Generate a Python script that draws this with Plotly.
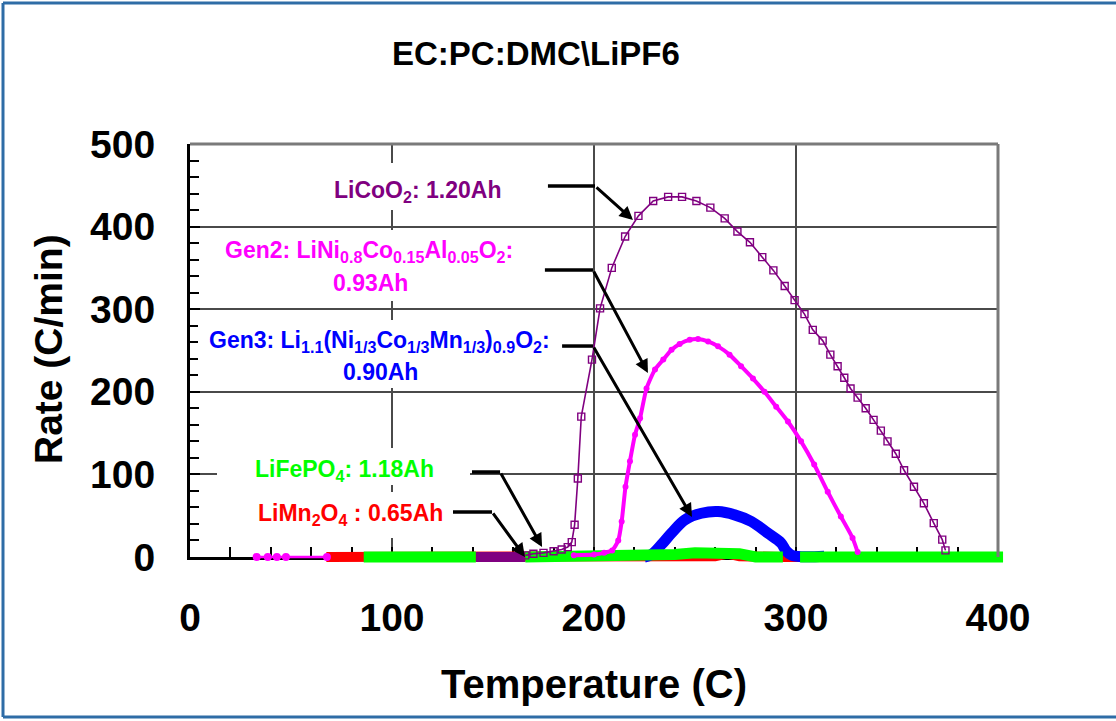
import plotly.graph_objects as go

FONT = "Liberation Sans, Arial, sans-serif"

# ---------------- data ----------------
x_ticks = [0, 100, 200, 300, 400]
y_ticks = [0, 100, 200, 300, 400, 500]

# LiCoO2 1.20Ah (purple, open squares)
licoo2_T = [166, 170, 175, 180, 184, 187, 189, 190.4, 192, 193.7, 199, 203, 208.8, 215.4,
            222, 229.3, 236.7, 243.6, 250.7, 257.6, 264.7, 271, 277.2, 283.3, 288.8, 294.4,
            299.3, 304.2, 308.3, 313.2, 317, 320.6, 323.9, 327, 330.5, 334.5, 338.4, 342,
            345.3, 349.4, 353.5, 358.4, 363.3, 368.2, 372.4, 374]
licoo2_R = [2, 4, 5, 7, 9, 12, 18, 39, 95, 170, 239, 301, 350, 388,
            413, 431, 436, 436, 431, 423, 410, 394, 381, 363, 347, 328,
            311, 294, 275, 262, 245, 231, 217, 204, 193, 180, 166, 153,
            140, 125, 105, 85, 65, 41, 21, 8]
licoo2_base_T = [141.5, 166]
licoo2_base_R = [0, 0]

# Gen2 LiNi0.8Co0.15Al0.05O2 0.93Ah (magenta, dots)
gen2_low_T = [33, 38.5, 43, 47.5, 67.8]
gen2_low_R = [0, 0, 0, 0, 0]
gen2_T = [190, 200, 205, 209, 212, 213.7, 215.6, 217.8, 220.3, 222.8, 226, 230.2, 234.3,
          238.4, 242.4, 247.4, 251.5, 256.5, 261.4, 267.1, 272.8, 278.7, 284.4, 290.2,
          296, 302.5, 309, 315.7, 322.2, 328, 330.5]
gen2_R = [2, 3, 5, 8, 20, 43, 85, 116, 148, 168, 204, 227, 239,
          251, 258, 263, 264, 261, 255, 245, 231, 216, 200, 182,
          164, 140, 112, 79, 49, 23, 6]

# Gen3 Li1.1(Ni1/3Co1/3Mn1/3)0.9O2 0.90Ah (blue)
gen3_T = [225, 228.5, 233.4, 238.4, 245, 253.2, 261.4, 269.6, 277.9, 286, 292.6, 295, 298, 314]
gen3_R = [0, 3, 15, 29, 45, 53, 55, 51, 43, 29, 17, 8, 2, 1]

# LiFePO4 1.18Ah (green)
lifepo4_T = [86, 141.5, None, 166, 232, 240, 250, 262, 272, 280, 293.5, None, 302, 402.5]
lifepo4_R = [0, 0, None, 0, 0, 3, 5, 6, 4, 0, 0, None, 0, 0]

# LiMn2O4 0.65Ah (red)
limn2o4_T = [67.5, 86, 120, 170, 200, 238, 260, 266, 272, 293.5, 302]
limn2o4_R = [0, 0, 0, 1.5, 3, 3, 1, 4, 1, 0, 0]

PURPLE = "#800080"
MAGENTA = "#FF00FF"
BLUE = "#0000FF"
GREEN = "#00FF00"
RED = "#FF0000"

# ---------------- geometry helpers (reference pixel space) ----------------
L, R_, T_, B_ = 190, 1008, 144, 567          # plot area in pixels
PW, PH = R_ - L, B_ - T_
X_END = 998                                  # px of T=400
Y_ZERO = 557                                 # px of R=0


def pp(px, py):
    return (px - L) / PW, (B_ - py) / PH


x_dom_end = (X_END - L) / PW
y_dom_start = (B_ - Y_ZERO) / PH
x2_max = 400 * PW / (X_END - L)
y2_min = -500 * (B_ - Y_ZERO) / (Y_ZERO - T_)

fig = go.Figure()

# empty trace to keep the framed axes alive
fig.add_trace(go.Scatter(x=[None], y=[None], xaxis="x", yaxis="y",
                         showlegend=False, hoverinfo="skip"))

common = dict(xaxis="x2", yaxis="y2", showlegend=False, hoverinfo="skip")
fig.add_trace(go.Scatter(x=limn2o4_T, y=limn2o4_R, mode="lines",
                         line=dict(color=RED, width=10), **common))
fig.add_trace(go.Scatter(x=licoo2_base_T, y=licoo2_base_R, mode="lines",
                         line=dict(color=PURPLE, width=10), **common))
fig.add_trace(go.Scatter(x=gen3_T, y=gen3_R, mode="lines",
                         line=dict(color=BLUE, width=11, shape="spline"), **common))
fig.add_trace(go.Scatter(x=lifepo4_T, y=lifepo4_R, mode="lines",
                         line=dict(color=GREEN, width=11), **common))
fig.add_trace(go.Scatter(x=licoo2_T, y=licoo2_R, mode="lines+markers",
                         line=dict(color=PURPLE, width=1.6),
                         marker=dict(symbol="square-open", size=7, color=PURPLE,
                                     line=dict(width=1.4, color=PURPLE)), **common))
fig.add_trace(go.Scatter(x=gen2_low_T, y=gen2_low_R, mode="lines+markers",
                         line=dict(color=MAGENTA, width=2.5),
                         marker=dict(symbol="circle", size=8, color=MAGENTA),
                         cliponaxis=False, **common))
fig.add_trace(go.Scatter(x=gen2_T, y=gen2_R, mode="lines+markers",
                         line=dict(color=MAGENTA, width=4, shape="spline", smoothing=0.6),
                         marker=dict(symbol="circle", size=6, color=MAGENTA), **common))

tickfont = dict(family=FONT, size=39, color="black", weight="bold")
fig.update_layout(
    width=1116, height=721,
    margin=dict(l=L, r=1116 - R_, t=T_, b=721 - B_),
    paper_bgcolor="white", plot_bgcolor="rgba(0,0,0,0)",
    showlegend=False,
    xaxis=dict(domain=[0, x_dom_end], range=[0, 400], anchor="y",
               tickvals=x_ticks, ticktext=[str(v) for v in x_ticks],
               showgrid=True, gridcolor="#4a4a4a", gridwidth=2,
               zeroline=False, showline=True, linecolor="black", linewidth=3,
               ticks="inside", ticklen=10, tickwidth=2, tickcolor="black",
               minor=dict(dtick=20, ticks="inside", ticklen=10, tickwidth=2,
                          tickcolor="black", showgrid=False),
               tickfont=tickfont, ticklabelstandoff=24),
    yaxis=dict(domain=[y_dom_start, 1], range=[0, 500], anchor="x",
               tickvals=y_ticks, ticktext=[str(v) for v in y_ticks],
               showgrid=True, gridcolor="#4a4a4a", gridwidth=2,
               zeroline=False, showline=True, linecolor="black", linewidth=3,
               ticks="inside", ticklen=10, tickwidth=2, tickcolor="black",
               minor=dict(dtick=20, ticks="inside", ticklen=9, tickwidth=2,
                          tickcolor="black", showgrid=False),
               tickfont=tickfont, ticklabelstandoff=24),
    xaxis2=dict(domain=[0, 1], range=[0, x2_max], anchor="y2", visible=False,
                showgrid=False, zeroline=False),
    yaxis2=dict(domain=[0, 1], range=[y2_min, 500], anchor="x2", visible=False,
                showgrid=False, zeroline=False),
)

shapes = []
# outer blue frame: left, top and bottom edges (right edge lies outside the picture)
FRAME = "#2E6CA6"
for (ax0, ay0, ax1, ay1) in [(3, 3, 3, 717), (3, 3, 1116, 3), (3, 717, 1116, 717)]:
    a0, b0 = pp(ax0, ay0)
    a1, b1 = pp(ax1, ay1)
    shapes.append(dict(type="line", xref="paper", yref="paper", x0=a0, y0=b0, x1=a1, y1=b1,
                       line=dict(color=FRAME, width=3), layer="above"))
# grey top / right border of plot
shapes.append(dict(type="line", xref="paper", yref="paper", x0=0, x1=x_dom_end, y0=1, y1=1,
                   line=dict(color="#7a7a7a", width=3), layer="above"))
shapes.append(dict(type="line", xref="paper", yref="paper", x0=x_dom_end, x1=x_dom_end,
                   y0=y_dom_start, y1=1, line=dict(color="#7a7a7a", width=3), layer="above"))

# white label boxes (px)
boxes = [(318, 163, 522, 210), (212, 230, 532, 301), (198, 320, 555, 388),
         (217, 448, 470, 485), (245, 492, 450, 538)]
for x0, y0, x1, y1 in boxes:
    a0, b0 = pp(x0, y1)
    a1, b1 = pp(x1, y0)
    shapes.append(dict(type="rect", xref="paper", yref="paper", x0=a0, y0=b0, x1=a1, y1=b1,
                       line=dict(width=0), fillcolor="white", layer="above"))

# arrows: (start, elbow, tip) in data units of the framed axes
arrows = [((177.2, 449.2), (200.5, 449.2), (219.3, 408.0)),
          ((175.7, 347.5), (199.5, 347.5), (226.7, 222.8)),
          ((184.2, 255.4), (199.5, 255.4), (248.5, 48.4)),
          ((139.6, 102.9), (153.5, 102.9), (174.3, 12.1)),
          ((130.2, 54.5), (149.5, 54.5), (165.8, 0.0))]
annotations = []
for s, e, t in arrows:
    shapes.append(dict(type="line", xref="x", yref="y", x0=s[0], y0=s[1], x1=e[0], y1=e[1],
                       line=dict(color="black", width=3.5), layer="above"))
    annotations.append(dict(xref="x", yref="y", axref="x", ayref="y", x=t[0], y=t[1],
                            ax=e[0], ay=e[1], text="", showarrow=True, arrowhead=2,
                            arrowsize=0.9, arrowwidth=3, arrowcolor="black", standoff=0))


def label(text, px, py, color, size=23):
    x, y = pp(px, py)
    annotations.append(dict(xref="paper", yref="paper", x=x, y=y, xanchor="center",
                            yanchor="middle", text=text, showarrow=False,
                            font=dict(family=FONT, size=size, color=color, weight="bold")))


label("LiCoO<sub>2</sub>: 1.20Ah", 417, 191, PURPLE)
label("Gen2: LiNi<sub>0.8</sub>Co<sub>0.15</sub>Al<sub>0.05</sub>O<sub>2</sub>:", 369, 251, MAGENTA)
label("0.93Ah", 370, 283, MAGENTA)
label("Gen3: Li<sub>1.1</sub>(Ni<sub>1/3</sub>Co<sub>1/3</sub>Mn<sub>1/3</sub>)<sub>0.9</sub>O<sub>2</sub>:",
      379, 341, BLUE)
label("0.90Ah", 380, 372, BLUE)
label("LiFePO<sub>4</sub>: 1.18Ah", 344, 470, GREEN)
label("LiMn<sub>2</sub>O<sub>4</sub> : 0.65Ah", 350, 514, RED)

label("EC:PC:DMC\\LiPF6", 536, 54, "black", size=33)
label("Temperature (C)", 594, 684, "black", size=40)
rx, ry = pp(48, 349)
annotations.append(dict(xref="paper", yref="paper", x=rx, y=ry, xanchor="center",
                        yanchor="middle", text="Rate (C/min)", textangle=-90, showarrow=False,
                        font=dict(family=FONT, size=39, color="black", weight="bold")))

fig.update_layout(shapes=shapes, annotations=annotations)
fig.write_html("out.html", config={"displayModeBar": False},
               post_script="document.body.style.margin='0';document.body.style.overflow='hidden';")
